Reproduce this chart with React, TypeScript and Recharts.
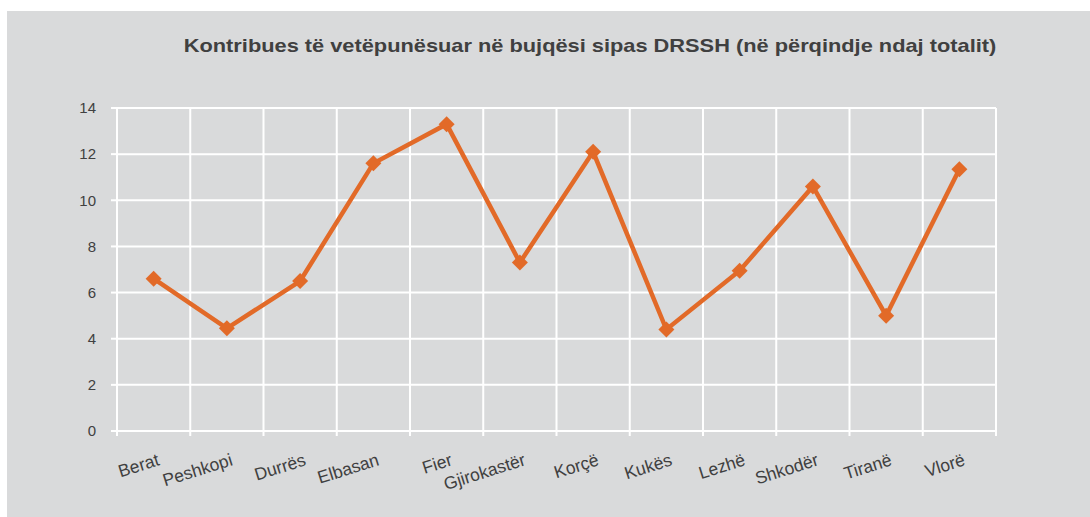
import { LineChart, Line, XAxis, YAxis, CartesianGrid } from 'recharts';

const categories = ['Berat', 'Peshkopi', 'Durrës', 'Elbasan', 'Fier', 'Gjirokastër', 'Korçë', 'Kukës', 'Lezhë', 'Shkodër', 'Tiranë', 'Vlorë'];
const shares = [6.6, 4.45, 6.5, 11.6, 13.3, 7.3, 12.1, 4.4, 6.95, 10.6, 5.0, 11.35];
const yTicks = [0, 2, 4, 6, 8, 10, 12, 14];
const title = 'Kontribues të vetëpunësuar në bujqësi sipas DRSSH (në përqindje ndaj totalit)';

const data = categories.map((name, i) => ({ name, value: shares[i] }));

const BG = '#d9dadb';
const ORANGE = '#e26a28';
const TEXT = '#404040';
const FONT = '"Liberation Sans", Arial, sans-serif';
const X_TICK_SIZE = 5;
const X_TICK_MARGIN = 17;

const CategoryTick = (props: any) => {
  const { x, y, payload, index } = props;
  const axisY = y - X_TICK_SIZE - X_TICK_MARGIN;
  const half = payload.offset ?? 0;
  const last = index === categories.length - 1;
  const tx = x + 3;
  return (
    <g>
      <line x1={x - half} x2={x - half} y1={axisY} y2={axisY + X_TICK_SIZE} stroke="#fff" strokeWidth={2} />
      {last && <line x1={x + half} x2={x + half} y1={axisY} y2={axisY + X_TICK_SIZE} stroke="#fff" strokeWidth={2} />}
      <text x={tx} y={y} dy="0.71em" textAnchor="end" transform={`rotate(-17.5, ${tx}, ${y})`} fill={TEXT} fontSize={17.5} fontFamily={FONT}>
        {payload.value}
      </text>
    </g>
  );
};

const Diamond = (props: any) => {
  const { cx, cy, index } = props;
  const r = 8;
  return <path key={index} d={`M${cx},${cy - r}L${cx + r},${cy}L${cx},${cy + r}L${cx - r},${cy}Z`} fill={ORANGE} />;
};

export default function App() {
  return (
    <div style={{ position: 'absolute', left: 7, top: 11, width: 1083, height: 506, background: BG, fontFamily: FONT }}>
      <div
        style={{
          position: 'absolute', left: 83, width: 1000, top: 25, textAlign: 'center',
          fontSize: 19, lineHeight: '19px', fontWeight: 700, color: TEXT, whiteSpace: 'nowrap',
          transform: 'scaleX(1.147)', transformOrigin: 'center',
        }}
      >
        {title}
      </div>
      <LineChart width={1083} height={506} data={data} margin={{ top: 97, right: 94, bottom: 0, left: 0 }}>
        <CartesianGrid
          stroke="#fff"
          strokeWidth={2}
          verticalCoordinatesGenerator={({ offset }: any) =>
            Array.from({ length: categories.length + 1 }, (_, i) => offset.left + (i * offset.width) / categories.length)
          }
        />
        <XAxis
          dataKey="name"
          scale="band"
          height={86}
          axisLine={{ stroke: '#fff', strokeWidth: 2 }}
          tickLine={false}
          tickSize={X_TICK_SIZE}
          tickMargin={X_TICK_MARGIN}
          interval={0}
          tick={<CategoryTick />}
        />
        <YAxis
          width={110}
          domain={[0, 14]}
          ticks={yTicks}
          axisLine={{ stroke: '#fff', strokeWidth: 2 }}
          tickLine={{ stroke: '#fff', strokeWidth: 2 }}
          tickSize={6}
          tickMargin={15}
          tick={{ fill: TEXT, fontSize: 15, fontFamily: FONT }}
        />
        <Line dataKey="value" stroke={ORANGE} strokeWidth={4.5} dot={Diamond} activeDot={false} isAnimationActive={false} />
      </LineChart>
    </div>
  );
}
